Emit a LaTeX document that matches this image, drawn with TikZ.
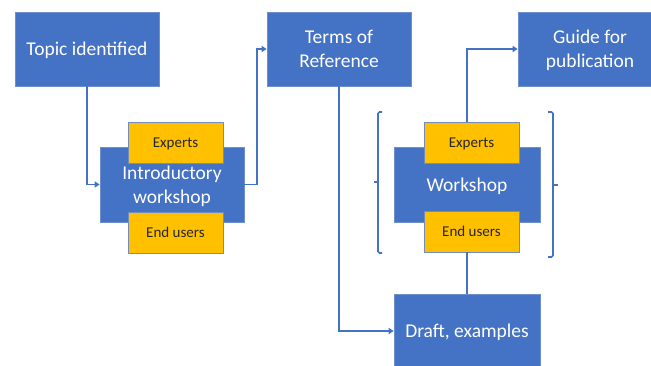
\documentclass[tikz,border=0pt]{standalone}
\usepackage{fontspec}
\setmainfont{Carlito}
\usetikzlibrary{arrows.meta}
\definecolor{boxblue}{HTML}{4472C4}
\definecolor{boxedge}{HTML}{6E8FCB}
\definecolor{boxyellow}{HTML}{FFC000}
\definecolor{linkblue}{HTML}{4472C4}
\begin{document}
\begin{tikzpicture}[x=1pt,y=-1pt,
  bluebox/.style={draw=boxedge,line width=0.6pt,fill=boxblue,text=white,align=center,
    inner sep=0pt,text depth=0pt,font=\fontsize{19.5}{24}\selectfont},
  yellowbox/.style={draw=boxedge!80!gray,line width=0.6pt,fill=boxyellow,text=black!85,
    inner sep=0pt,text depth=0pt,minimum width=95pt,minimum height=41pt,font=\fontsize{15}{17}\selectfont},
  link/.style={draw=linkblue,line width=1.7pt},
  arrowlink/.style={link,-{Triangle[length=5pt,width=6pt]}},
  bracket/.style={draw=linkblue,line width=1.7pt,rounded corners=1.5pt}]
\useasboundingbox (0,0) rectangle (651,365);
\begin{scope}
\clip (0,0) rectangle (651,365);
% blue boxes
\node[bluebox,minimum width=144pt,minimum height=74pt] (topic) at (87,49) {Topic identified};
\node[bluebox,minimum width=144pt,minimum height=74pt] (terms) at (339,49) {Terms of\\Reference};
\node[bluebox,minimum width=144pt,minimum height=74pt] (guide) at (590,49) {Guide for\\publication};
\node[bluebox,minimum width=144pt,minimum height=75pt] (intro) at (172,184.5) {Introductory\\workshop};
\node[bluebox,minimum width=146pt,minimum height=75pt] (work) at (467,184.5) {Workshop};
\node[bluebox,minimum width=146pt,minimum height=74pt] (draft) at (467,331) {Draft, examples};
% yellow boxes
\node[yellowbox] (expL) at (175.5,142.5) {Experts};
\node[yellowbox] (endL) at (175.5,232.5) {End users};
\node[yellowbox] (expR) at (471.5,142.5) {Experts};
\node[yellowbox] (endR) at (471.5,231.5) {End users};
% connectors
\draw[arrowlink] (topic.south) |- (intro.west);
\draw[arrowlink] (intro.east) -- ++(13,0) |- (terms.west);
\draw[arrowlink] (terms.south) |- (draft.west);
\draw[link] (endR.south -| work.center) -- (draft.north);
\draw[arrowlink] (expR.north -| work.center) |- (guide.west);
% brackets
\draw[bracket] (382,112) -- (378,112) -- (378,253) -- (382,253);
\draw[link] (378,182) -- (374,182);
\draw[bracket] (548,112) -- (553,112) -- (553,257) -- (548,257);
\draw[link] (553,185) -- (558,185);
\end{scope}
\end{tikzpicture}
\end{document}
